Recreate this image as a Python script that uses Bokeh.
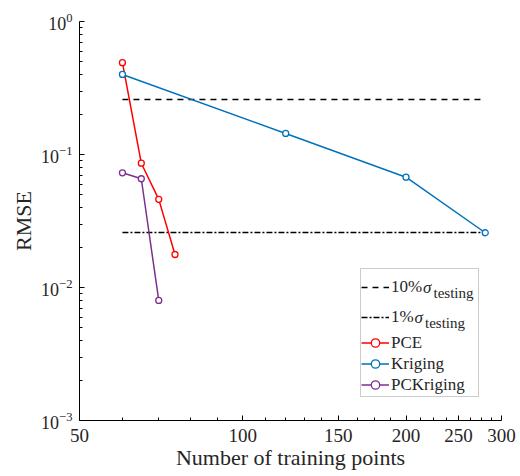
from bokeh.plotting import figure
from bokeh.models import (FixedTicker, NumeralTickFormatter, Legend, LegendItem,
                          Label, BoxAnnotation)
from bokeh.embed import file_html
from bokeh.resources import INLINE

# ---- data ----
pce_n = [60, 65, 70, 75]
pce_rmse = [0.49, 0.086, 0.046, 0.0177]
krig_n = [60, 120, 200, 280]
krig_rmse = [0.40, 0.144, 0.0675, 0.0258]
pck_n = [60, 65, 70]
pck_rmse = [0.0728, 0.0657, 0.0080]
ref_n = [60, 280]
ref10 = [0.259, 0.259]
ref1 = [0.0259, 0.0259]
x_ticks = [50, 100, 150, 200, 250, 300]
x_minor = [60, 70, 80, 90, 110, 120, 130, 140, 162.5, 175, 187.5,
           212.5, 225, 237.5, 262.5, 275, 287.5]
y_ticks = [1e-3, 1e-2, 1e-1, 1]
y_minor = [m * d for d in (1e-3, 1e-2, 1e-1) for m in range(2, 10)]

FONT = "Liberation Serif"
TXT = "#262626"

p = figure(width=520, height=476, x_axis_type="log", y_axis_type="log",
           x_range=(50, 300), y_range=(1e-3, 1),
           output_backend="svg", toolbar_location=None,
           min_border_left=79, min_border_top=21, min_border_right=19,
           min_border_bottom=56)
p.outline_line_color = None
p.grid.visible = False

r10 = p.line(ref_n, ref10, line_color="black", line_width=1.5, line_dash="6 5")
r1 = p.line(ref_n, ref1, line_color="black", line_width=1.5, line_dash="6 2 2 2")

def series(xs, ys, color):
    l = p.line(xs, ys, line_color=color, line_width=1.5)
    s = p.scatter(xs, ys, marker="circle", size=6, line_color=color,
                  line_width=1.3, fill_color="white")
    return [l, s]

rp = series(pce_n, pce_rmse, "#FF0000")
rk = series(krig_n, krig_rmse, "#0072BD")
rc = series(pck_n, pck_rmse, "#7E2F8E")

# axes
p.xaxis.ticker = FixedTicker(ticks=x_ticks, minor_ticks=x_minor)
p.xaxis.formatter = NumeralTickFormatter(format="0")
p.yaxis.ticker = FixedTicker(ticks=y_ticks, minor_ticks=y_minor)
for ax in (p.xaxis, p.yaxis):
    ax.major_tick_in = 5
    ax.major_tick_out = 0
    ax.minor_tick_in = 3
    ax.minor_tick_out = 0
    ax.axis_line_color = "black"
    ax.major_tick_line_color = "black"
    ax.minor_tick_line_color = "black"
    ax.major_label_text_font = FONT
    ax.major_label_text_color = TXT
    ax.axis_label_text_font = FONT
    ax.axis_label_text_font_size = "22px"
    ax.axis_label_text_font_style = "normal"
    ax.axis_label_text_color = TXT
p.xaxis.major_label_text_font_size = "19px"
p.yaxis.major_label_text_font_size = "18px"
p.xaxis.axis_label = "Number of training points"
p.yaxis.axis_label = "RMSE"
p.xaxis.major_label_standoff = 8
p.xaxis.axis_label_standoff = 0
p.yaxis.major_label_standoff = 7
p.yaxis.axis_label_standoff = 2

# legend frame
p.add_layout(BoxAnnotation(left=281, right=399, bottom=24, top=152,
                           left_units="screen", right_units="screen",
                           top_units="screen", bottom_units="screen",
                           fill_color="white", fill_alpha=1.0,
                           line_color="#555555", line_width=1, level="annotation"))

common = dict(label_text_font=FONT, label_text_font_size="17px",
              label_text_color=TXT, glyph_width=28, label_standoff=2,
              margin=0, padding=0, border_line_color=None,
              background_fill_alpha=0)

leg_a = Legend(items=[
    LegendItem(label="10%", renderers=[r10]),
    LegendItem(label="1%", renderers=[r1]),
], location=(282, 92), spacing=8, label_height=22, glyph_height=22, **common)
leg_b = Legend(items=[
    LegendItem(label="PCE", renderers=rp),
    LegendItem(label="Kriging", renderers=rk),
    LegendItem(label="PCKriging", renderers=rc),
], location=(282, 25), spacing=0, label_height=21, glyph_height=21, **common)
p.add_layout(leg_a, "center")
p.add_layout(leg_b, "center")

# sigma + subscript "testing" for the two reference-line entries
for sx, sy, tx in ((343.5, 133, 354), (335, 103, 345.5)):
    p.add_layout(Label(x=sx, y=sy, x_units="screen", y_units="screen",
                       text="σ", text_font=FONT, text_font_size="17px",
                       text_font_style="italic", text_color=TXT,
                       text_baseline="middle"))
    p.add_layout(Label(x=tx, y=sy - 5, x_units="screen", y_units="screen",
                       text="testing", text_font=FONT, text_font_size="15px",
                       text_color=TXT, text_baseline="middle"))

open("out.html", "w").write(file_html(p, INLINE))
